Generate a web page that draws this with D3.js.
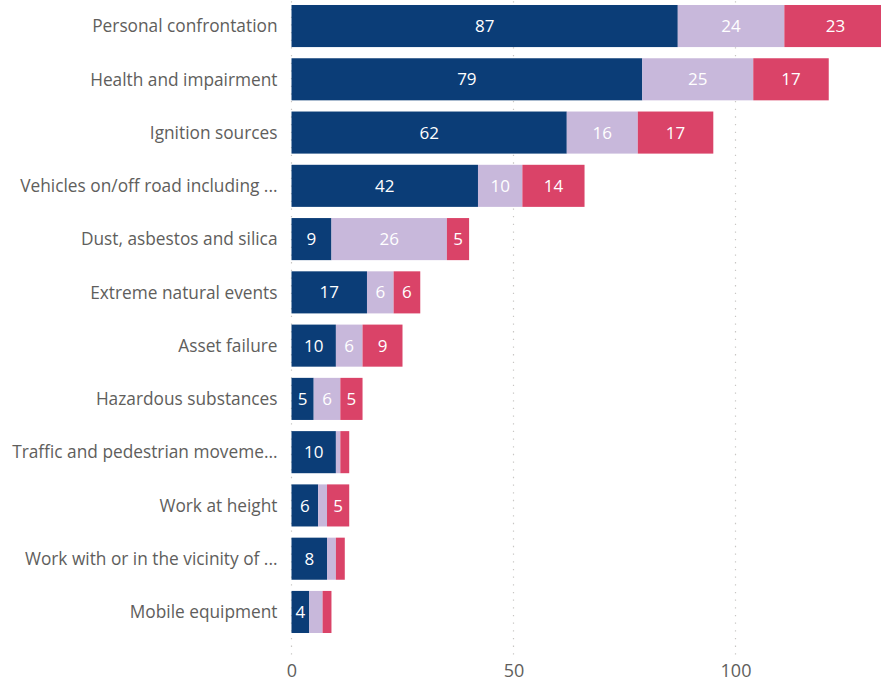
<!DOCTYPE html>
<html>
<head>
<meta charset="utf-8">
<script src="https://cdn.jsdelivr.net/npm/d3@7"></script>
<style>
  html, body { margin: 0; padding: 0; background: #fff; }
  svg { display: block; }
</style>
</head>
<body>
<svg id="chart" width="881" height="682"></svg>
<script>
// Incident categories and counts per series (stacked left to right)
const categories = [
  "Personal confrontation",
  "Health and impairment",
  "Ignition sources",
  "Vehicles on/off road including ...",
  "Dust, asbestos and silica",
  "Extreme natural events",
  "Asset failure",
  "Hazardous substances",
  "Traffic and pedestrian moveme...",
  "Work at height",
  "Work with or in the vicinity of ...",
  "Mobile equipment"
];
const seriesA = [87, 79, 62, 42, 9, 17, 10, 5, 10, 6, 8, 4];
const seriesB = [24, 25, 16, 10, 26, 6, 6, 6, 1, 2, 2, 3];
const seriesC = [23, 17, 17, 14, 5, 6, 9, 5, 2, 5, 2, 2];
const xTicks = [0, 50, 100];

const seriesKeys = ["a", "b", "c"];
const colors = { a: "#0B3D77", b: "#C8B8DB", c: "#DA4368" };

const rows = categories.map((name, i) => ({ name, a: seriesA[i], b: seriesB[i], c: seriesC[i] }));
const stacked = d3.stack().keys(seriesKeys)(rows);

const svg = d3.select("#chart");
const W = 881, H = 682;
const left = 291.5;
const font = "'Segoe UI', 'Open Sans', sans-serif";

const x = d3.scaleLinear().domain([0, 100]).range([left, left + 444]);
const y = d3.scaleBand().domain(categories).range([-0.6, 638.6])
  .paddingInner(0.21).paddingOuter(0.105);

svg.append("defs").append("clipPath").attr("id", "plot-clip")
  .append("rect").attr("x", 0).attr("y", 0).attr("width", W).attr("height", H);

// dotted vertical gridlines
svg.append("g").selectAll("line").data(xTicks).join("line")
  .attr("x1", d => x(d)).attr("x2", d => x(d))
  .attr("y1", 1.3).attr("y2", 656)
  .attr("stroke", "#C8C6C4").attr("stroke-width", 1.2)
  .attr("stroke-dasharray", "1.3,6.37");

// stacked bars
const plot = svg.append("g").attr("clip-path", "url(#plot-clip)");
stacked.forEach(layer => {
  const key = layer.key;
  plot.append("g").selectAll("rect").data(layer).join("rect")
    .attr("x", d => x(d[0]))
    .attr("y", d => y(d.data.name))
    .attr("width", d => x(d[1]) - x(d[0]))
    .attr("height", y.bandwidth())
    .attr("fill", colors[key]);

  // value labels inside segments wide enough to hold them
  plot.append("g").selectAll("text").data(layer.filter(d => d.data[key] >= 4)).join("text")
    .attr("x", d => (x(d[0]) + x(d[1])) / 2)
    .attr("y", d => y(d.data.name) + y.bandwidth() / 2)
    .attr("dy", "0.36em")
    .attr("text-anchor", "middle")
    .attr("fill", "#FFFFFF")
    .style("font-family", font)
    .style("font-size", "17px")
    .text(d => d.data[key]);
});

// category axis
const yAxis = svg.append("g")
  .attr("transform", `translate(${left},0)`)
  .call(d3.axisLeft(y).tickSize(0).tickPadding(14));
yAxis.select(".domain").remove();
yAxis.selectAll("text")
  .attr("fill", "#605E5C")
  .attr("dy", "0.36em")
  .style("font-family", font)
  .style("font-size", "17.3px");

// value axis
const xAxis = svg.append("g")
  .attr("transform", "translate(0,660)")
  .call(d3.axisBottom(x).tickValues(xTicks).tickSize(0).tickPadding(4));
xAxis.select(".domain").remove();
xAxis.selectAll("text")
  .attr("fill", "#605E5C")
  .style("font-family", font)
  .style("font-size", "18px");
</script>
</body>
</html>
